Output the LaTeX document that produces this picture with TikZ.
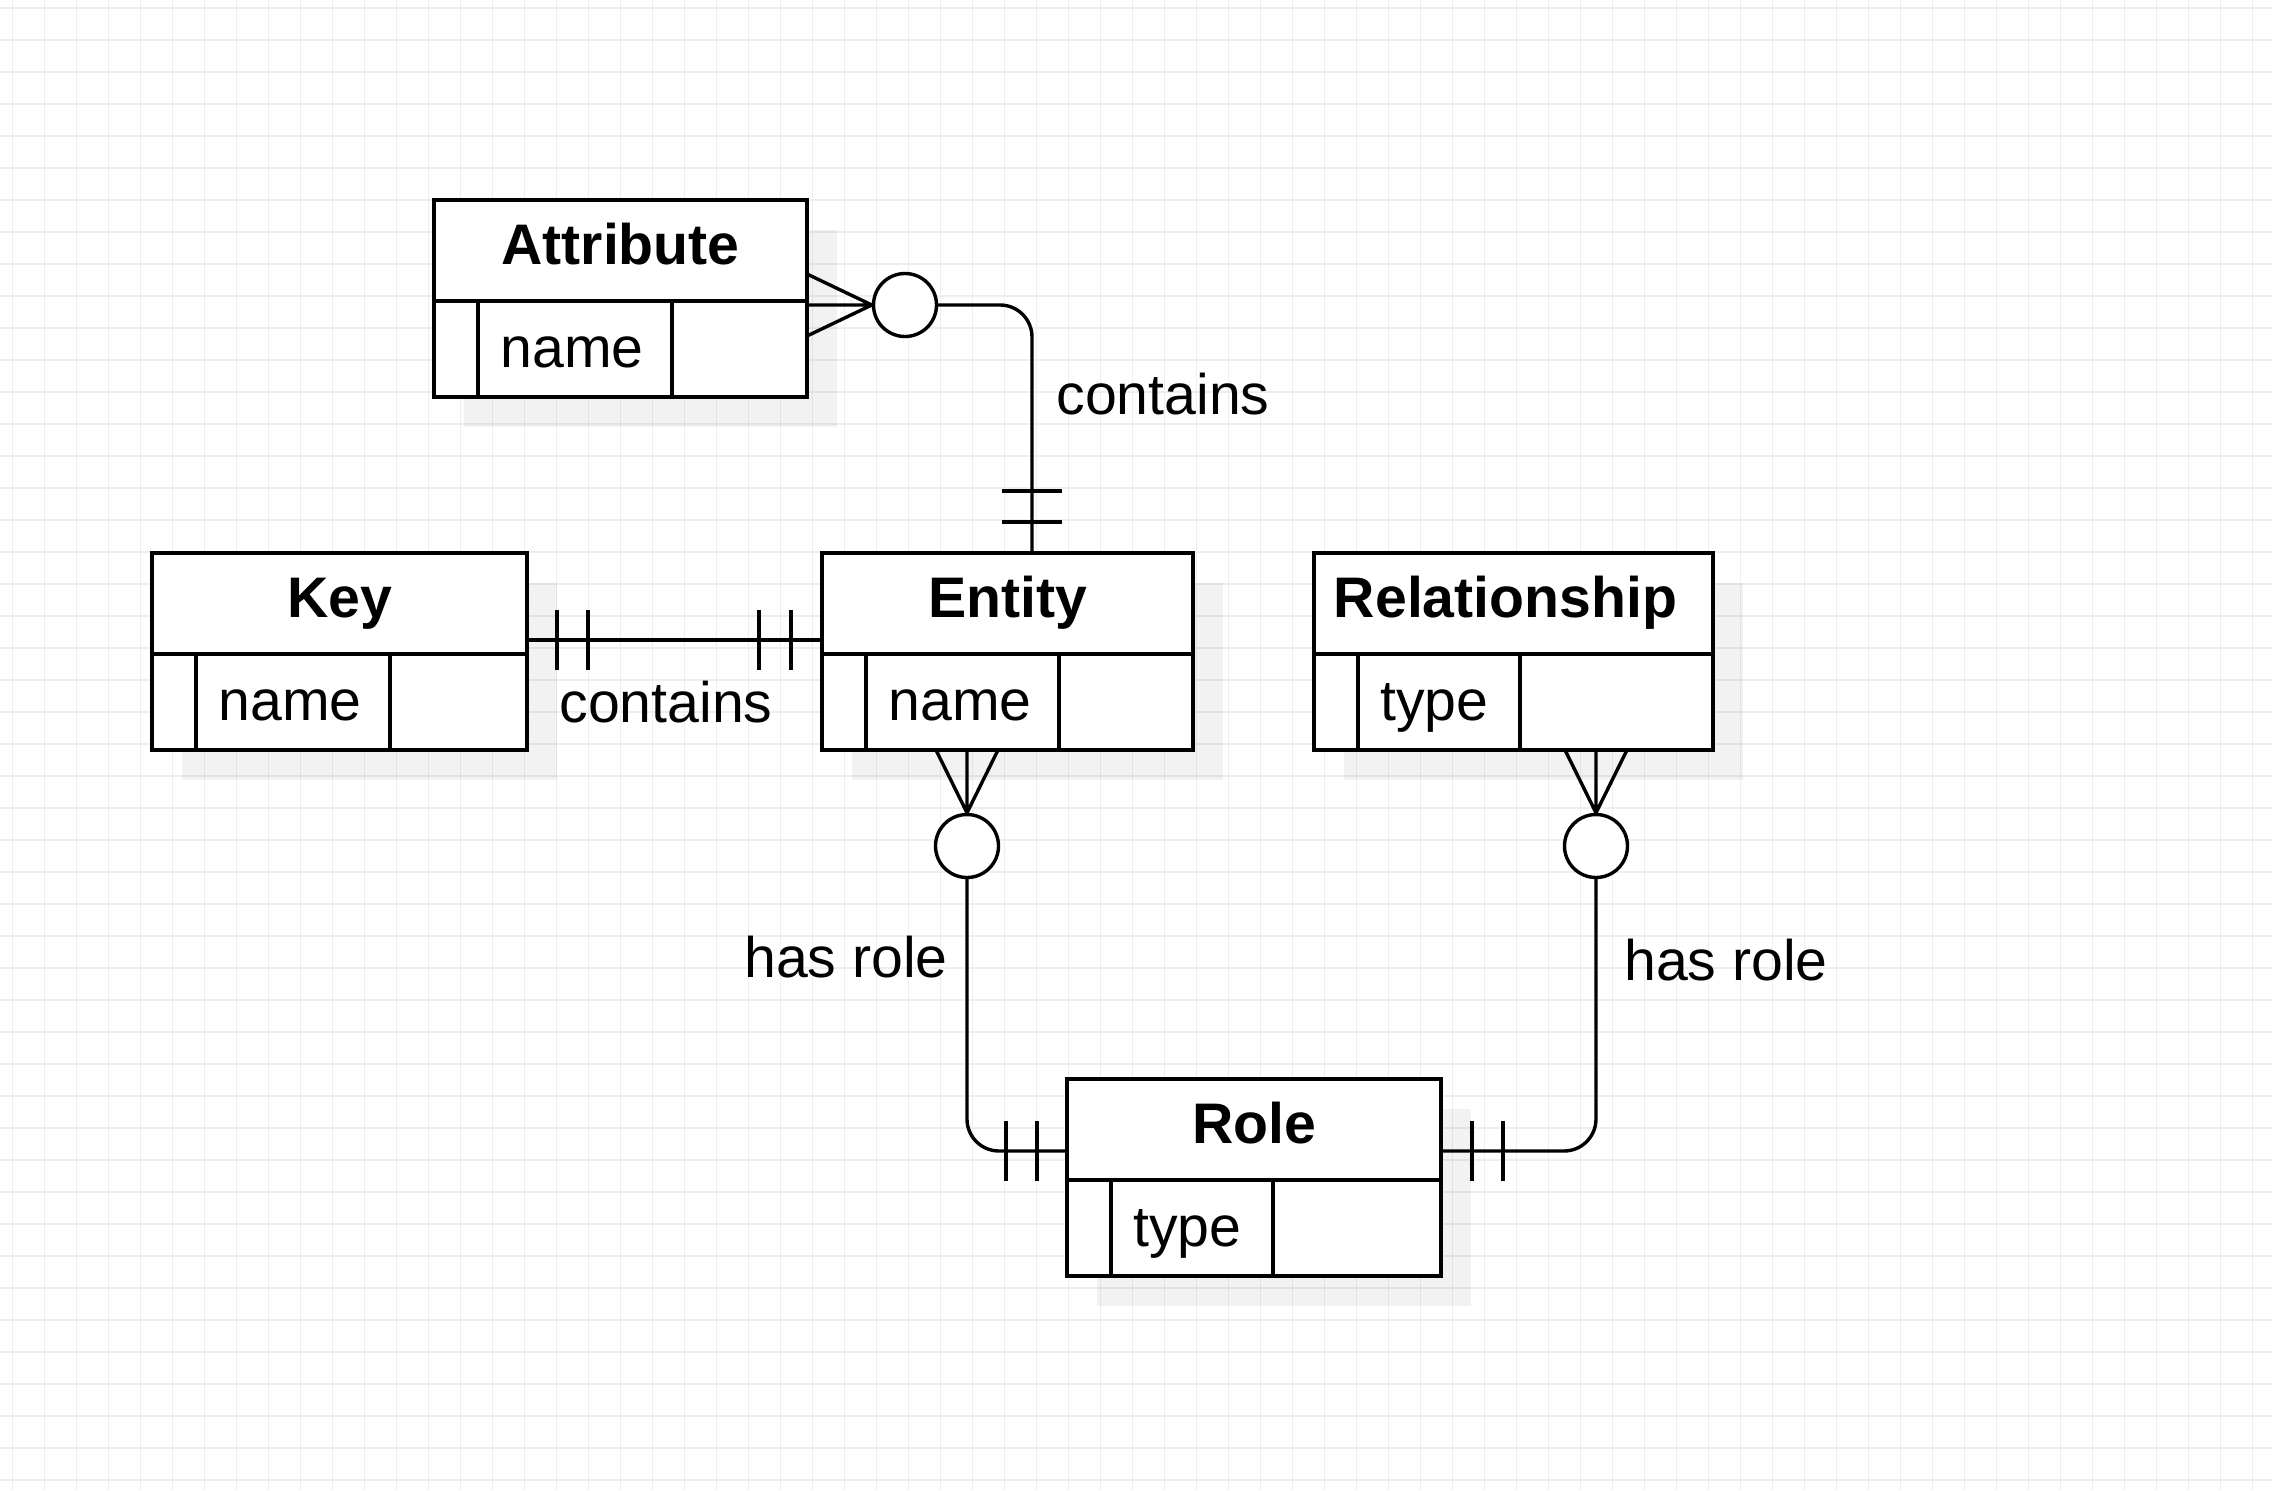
\documentclass[tikz,border=0pt]{standalone}
\usepackage{fontspec}
\setmainfont{Liberation Sans}
\usetikzlibrary{calc, positioning}
\definecolor{gridgray}{HTML}{EEEEEE}

\begin{document}
\begin{tikzpicture}[x=0.5pt, y=-0.5pt,
  table/.style={draw, fill=white, line width=2.1pt, rectangle, inner sep=0pt, outer sep=0pt, minimum height=98.5pt, anchor=north west},
  tabline/.style={line width=2.1pt},
  conn/.style={line width=1.7pt},
  optcirc/.style={circle, draw, fill=white, line width=1.7pt, minimum size=31.5pt, inner sep=0pt},
  head/.style={font=\fontsize{28.6}{34}\selectfont\bfseries, inner sep=0pt, anchor=base},
  attrib/.style={font=\fontsize{28.6}{34}\selectfont, inner sep=0pt, anchor=base west},
  lbl/.style={font=\fontsize{28.6}{34}\selectfont, inner sep=0pt}]

\useasboundingbox (0,0) rectangle (2272,1490);
\fill[white] (0,0) rectangle (2272,1490);

% grid
\foreach \i in {0,...,70} \draw[gridgray, line width=0.6pt] (12.3+32*\i,0) -- (12.3+32*\i,1490);
\foreach \j in {0,...,46} \draw[gridgray, line width=0.6pt] (0,8+32*\j) -- (2272,8+32*\j);

% tables
\foreach \nm/\px/\py/\w/\fw/\tx/\tname/\fname in {attr/434/200/373/238/0/Attribute/name, key/152/553/375/238/0/Key/name, ent/822/553/371/237/0/Entity/name, rel/1314/553/399/206/-8/Relationship/type, role/1067/1079/374/206/0/Role/type} {
  \fill[black, opacity=0.05] (\px+30,\py+30) rectangle ++(\w,197);
  \node[table, minimum width=\w*0.5pt] (\nm) at (\px,\py) {};
  \draw[tabline] ($(\nm.north west)+(0,101)$) -- ($(\nm.north east)+(0,101)$);
  \draw[tabline] ($(\nm.north west)+(44,101)$) -- ($(\nm.south west)+(44,0)$);
  \draw[tabline] ($(\nm.north west)+(\fw,101)$) -- ($(\nm.south west)+(\fw,0)$);
  \node[head] (\nm-title) at ($(\nm.north)+(\tx,64)$) {\tname};
  \node[attrib] (\nm-field) at ($(\nm.north west)+(66,167)$) {\fname};
}

% Attribute -- Entity
\coordinate (attrE) at ($(attr.north east)+(0,105)$);
\node[optcirc] (oA) at ($(attrE)+(98,0)$) {};
\draw[conn] ($(attrE)+(0,-31)$) -- (oA.west) -- ($(attrE)+(0,31)$) (attrE) -- (oA.west);
\coordinate (entN) at ($(ent.north west)+(210,0)$);
\draw[conn, rounded corners=16pt] (oA.east) -| (entN);
\foreach \d in {31,62} \draw[conn] ($(entN)+(-30,-\d)$) -- ++(60,0);

% Key -- Entity
\coordinate (keyE) at ($(key.north east)+(0,87)$);
\coordinate (entW) at (keyE -| ent.west);
\draw[conn] (keyE) -- (entW);
\foreach \d in {30,61} \draw[conn] ($(keyE)+(\d,-30)$) -- ++(0,60);
\foreach \d in {31,63} \draw[conn] ($(entW)+(-\d,-30)$) -- ++(0,60);

% Entity -- Role
\coordinate (entS) at ($(ent.south west)+(145,0)$);
\node[optcirc] (oE) at ($(entS)+(0,96)$) {};
\draw[conn] ($(entS)+(-31,0)$) -- (oE.north) -- ($(entS)+(31,0)$) (entS) -- (oE.north);
\coordinate (roleW) at ($(role.north west)+(0,72)$);
\draw[conn, rounded corners=16pt] (oE.south) |- (roleW);
\foreach \d in {30,61} \draw[conn] ($(roleW)+(-\d,-30)$) -- ++(0,60);

% Relationship -- Role
\coordinate (relS) at ($(rel.south west)+(282,0)$);
\node[optcirc] (oR) at ($(relS)+(0,96)$) {};
\draw[conn] ($(relS)+(-31,0)$) -- (oR.north) -- ($(relS)+(31,0)$) (relS) -- (oR.north);
\coordinate (roleE) at ($(role.north east)+(0,72)$);
\draw[conn, rounded corners=16pt] (oR.south) |- (roleE);
\foreach \d in {31,62} \draw[conn] ($(roleE)+(\d,-30)$) -- ++(0,60);

% labels
\node[lbl, anchor=base west] (lblAttr) at (1056,414) {contains};
\node[lbl, anchor=base] (lblKey) at (666,722) {contains};
\node[lbl, anchor=base] (lblEnt) at (846,977) {has role};
\node[lbl, anchor=base] (lblRel) at (1726,980) {has role};

\end{tikzpicture}
\end{document}
